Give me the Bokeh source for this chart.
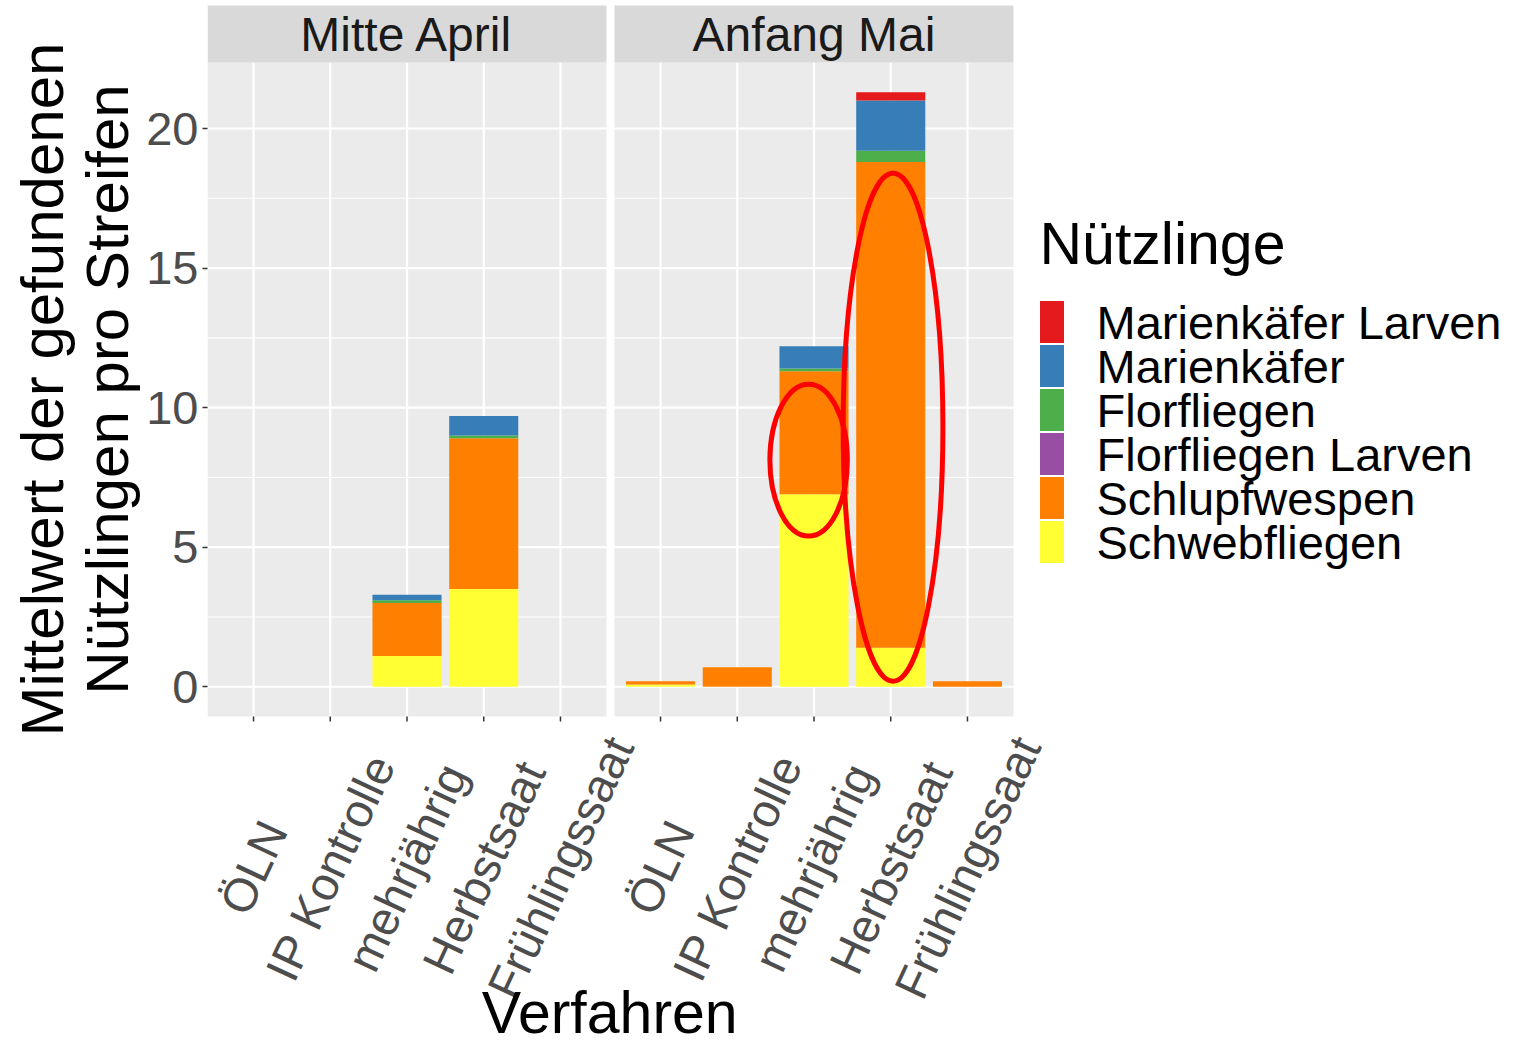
from bokeh.plotting import figure
from bokeh.models import Range1d, FixedTicker, ColumnDataSource
from bokeh.layouts import row
from bokeh.embed import file_html
from bokeh.resources import INLINE
from bokeh.core.properties import value

# ---------------- data ----------------
categories = ["ÖLN", "IP Kontrolle", "mehrjährig", "Herbstsaat", "Frühlingssaat"]
facets = ["Mitte April", "Anfang Mai"]
# stack order bottom -> top
series = ["Schwebfliegen", "Schlupfwespen", "Florfliegen Larven",
          "Florfliegen", "Marienkäfer", "Marienkäfer Larven"]
series_colors = ["#FFFF33", "#FF7F00", "#984EA3", "#4DAF4A", "#377EB8", "#E41A1C"]

schwebfliegen_april = [0, 0, 1.1, 3.5, 0]
schlupfwespen_april = [0, 0, 1.9, 5.4, 0]
florfliegen_larven_april = [0, 0, 0, 0, 0]
florfliegen_april = [0, 0, 0.1, 0.1, 0]
marienkaefer_april = [0, 0, 0.2, 0.7, 0]
marienkaefer_larven_april = [0, 0, 0, 0, 0]

schwebfliegen_mai = [0.08, 0, 6.9, 1.4, 0]
schlupfwespen_mai = [0.12, 0.7, 4.4, 17.4, 0.2]
florfliegen_larven_mai = [0, 0, 0, 0, 0]
florfliegen_mai = [0, 0, 0.1, 0.4, 0]
marienkaefer_mai = [0, 0, 0.8, 1.8, 0]
marienkaefer_larven_mai = [0, 0, 0, 0.3, 0]

y_ticks = [0, 5, 10, 15, 20]
y_minor = [2.5, 7.5, 12.5, 17.5]

# annotation ellipses (Anfang Mai panel): category position, centre value, width, height
ell_x = [2.93, 4.03]
ell_y = [8.12, 9.30]
ell_w = [1.01, 1.30]
ell_h = [5.45, 18.2]

legend_title = "Nützlinge"
x_title = "Verfahren"
y_title_lines = ["Mittelwert der gefundenen", "Nützlingen pro Streifen"]

# ---------------- layout constants (pixels) ----------------
FONT = "Liberation Sans"
TOP = 5            # space above the strips
YT_W = 142         # width of the y-title column
LEFT = 65          # space for y tick labels
FRAME_LEFT = YT_W + LEFT
PANEL_W, GAP_PX = 399, 8
RIGHT_EDGE = 1508
STRIP_H, PANEL_H, BELOW = 57, 654, 330
FRAME_H = STRIP_H + PANEL_H + BELOW
FRAME_W = RIGHT_EDGE - FRAME_LEFT
LABEL_DROP = 151   # centre of rotated category labels below panel
TITLE_DROP = 296   # centre of x title below panel
TICK_LEN = 5

data_april = [schwebfliegen_april, schlupfwespen_april, florfliegen_larven_april,
              florfliegen_april, marienkaefer_april, marienkaefer_larven_april]
data_mai = [schwebfliegen_mai, schlupfwespen_mai, florfliegen_larven_mai,
            florfliegen_mai, marienkaefer_mai, marienkaefer_larven_mai]

totals = [sum(v) for d in (data_april, data_mai) for v in zip(*d)]
top_val = max(totals)
pad = 0.05 * top_val
ymin, panel_top = -pad, top_val + pad
ppu = PANEL_H / (panel_top - ymin)
yend = panel_top + STRIP_H / ppu
ybot = ymin - BELOW / ppu

n = len(categories)
xs = list(range(1, n + 1))
panel_units = n + 0.2            # 0.6 expansion each side
unit_px = PANEL_W / panel_units
gap_units = GAP_PX / unit_px
offset = panel_units + gap_units  # shift of second facet
x_lo = 0.4
x_hi = x_lo + FRAME_W / unit_px
panel_left = [x_lo, x_lo + offset]
panel_right = [x_lo + panel_units, x_lo + panel_units + offset]
all_x = xs + [x + offset for x in xs]


def px2x(px):
    return x_lo + (px - FRAME_LEFT) / unit_px


def py2y(py):
    return yend - (py - TOP) / ppu


# ---------- y title column ----------
p0 = figure(frame_width=YT_W, frame_height=FRAME_H,
            x_range=Range1d(0, YT_W), y_range=Range1d(TOP + FRAME_H, TOP),
            output_backend="svg", toolbar_location=None,
            min_border=0, min_border_top=TOP,
            x_axis_location=None, y_axis_location=None)
p0.grid.visible = False
p0.outline_line_color = None
panel_mid_px = TOP + STRIP_H + PANEL_H / 2
p0.text(x=[42, 107], y=[panel_mid_px] * 2, text=y_title_lines, angle=90, angle_units="deg",
        text_align="center", text_baseline="middle",
        text_font=value(FONT), text_font_size="60px", text_color="black")

# ---------- main panels ----------
p = figure(frame_width=FRAME_W, frame_height=FRAME_H,
           x_range=Range1d(x_lo, x_hi), y_range=Range1d(ybot, yend),
           output_backend="svg", toolbar_location=None, x_axis_location=None,
           min_border_top=TOP, min_border_bottom=0,
           min_border_left=LEFT, min_border_right=0)
p.background_fill_color = "white"
p.border_fill_color = "white"
p.outline_line_color = None
p.grid.visible = False

yax = p.yaxis[0]
yax.ticker = FixedTicker(ticks=y_ticks, minor_ticks=[])
yax.bounds = (ymin, panel_top)
yax.axis_line_color = None
yax.major_tick_line_color = "#333333"
yax.major_tick_line_width = 1.5
yax.major_tick_out = TICK_LEN
yax.major_tick_in = 0
yax.minor_tick_line_color = None
yax.major_label_text_font = FONT
yax.major_label_text_font_size = "47px"
yax.major_label_text_color = "#4D4D4D"
yax.major_label_standoff = 4

# panel backgrounds
p.quad(left=panel_left, right=panel_right, bottom=[ymin] * 2, top=[panel_top] * 2,
       fill_color="#EBEBEB", line_color=None)

# grid lines inside each panel
for a, b in zip(panel_left, panel_right):
    p.segment(x0=[a] * len(y_minor), x1=[b] * len(y_minor), y0=y_minor, y1=y_minor,
              line_color="white", line_width=1.1)
    p.segment(x0=[a] * len(y_ticks), x1=[b] * len(y_ticks), y0=y_ticks, y1=y_ticks,
              line_color="white", line_width=2.2)
p.segment(x0=all_x, x1=all_x, y0=[ymin] * len(all_x), y1=[panel_top] * len(all_x),
          line_color="white", line_width=2.2)

# stacked bars for each facet
for k, d in enumerate((data_april, data_mai)):
    src = ColumnDataSource(dict(x=[x + k * offset for x in xs], **dict(zip(series, d))))
    p.vbar_stack(series, x="x", width=0.9, color=series_colors, line_color=None, source=src)

# facet strips
p.quad(left=panel_left, right=panel_right, bottom=[panel_top] * 2, top=[yend + 1] * 2,
       fill_color="#D9D9D9", line_color=None)
p.text(x=[(a + b) / 2 for a, b in zip(panel_left, panel_right)],
       y=[(panel_top + yend) / 2] * 2, text=facets,
       text_align="center", text_baseline="middle",
       text_font=value(FONT), text_font_size="48px", text_color="#1A1A1A")

# annotation ellipses in second facet
p.ellipse(x=[x + offset for x in ell_x], y=ell_y, width=ell_w, height=ell_h,
          fill_color=None, line_color="#FF0000", line_width=5)

# x ticks and rotated category labels
p.segment(x0=all_x, x1=all_x, y0=[ymin] * len(all_x),
          y1=[ymin - TICK_LEN / ppu] * len(all_x), line_color="#333333", line_width=1.5)
p.text(x=all_x, y=[ymin - LABEL_DROP / ppu] * len(all_x), text=categories * 2,
       angle=65, angle_units="deg", text_align="center", text_baseline="middle",
       text_font=value(FONT), text_font_size="47px", text_color="#4D4D4D")

# shared x title (centred under both panels)
p.text(x=[(panel_left[0] + panel_right[1]) / 2 - 0.01], y=[ymin - TITLE_DROP / ppu],
       text=[x_title], text_align="center", text_baseline="middle",
       text_font=value(FONT), text_font_size="59px", text_color="black")

# ---------- legend (positioned in pixels, converted to data units) ----------
leg_names = series[::-1]
leg_cols = series_colors[::-1]
row_c = [321.5 + 44 * i for i in range(len(leg_names))]
p.rect(x=[px2x(1051.5)] * len(leg_names), y=[py2y(c) for c in row_c],
       width=24 / unit_px, height=42 / ppu, fill_color=leg_cols, line_color=None)
p.text(x=[px2x(1096)] * len(leg_names), y=[py2y(c) for c in row_c], text=leg_names,
       text_align="left", text_baseline="middle",
       text_font=value(FONT), text_font_size="47px", text_color="black")
p.text(x=[px2x(1039)], y=[py2y(243)], text=[legend_title], text_align="left",
       text_baseline="middle", text_font=value(FONT),
       text_font_size="59px", text_color="black")

layout = row(p0, p)
open("out.html", "w").write(file_html(layout, INLINE))
